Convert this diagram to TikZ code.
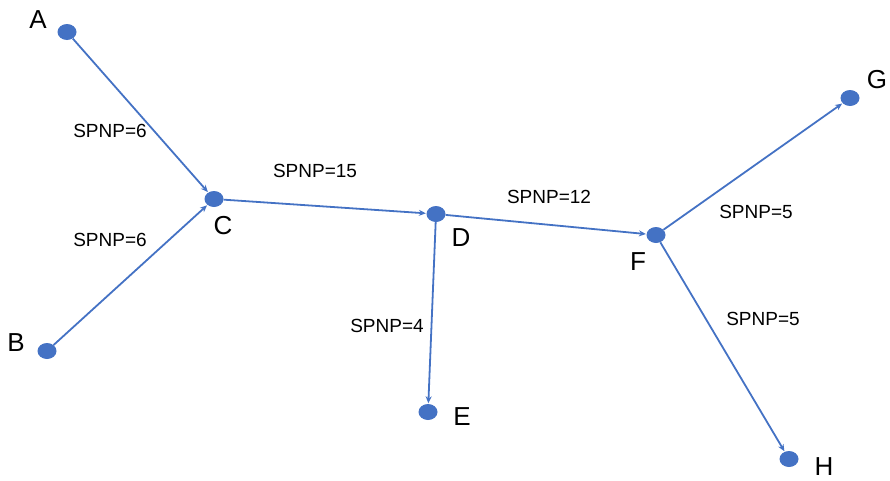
\documentclass[tikz,border=0pt]{standalone}
\usepackage{fontspec}
\setmainfont{Liberation Sans}
\usetikzlibrary{arrows.meta,shapes.geometric}
\definecolor{nodeblue}{HTML}{4472C4}
\begin{document}
\begin{tikzpicture}[x=1pt,y=-1pt,
  vtx/.style={ellipse, fill=nodeblue, minimum width=19pt, minimum height=16pt, inner sep=0pt},
  edge/.style={draw=nodeblue, line width=1.8pt, -{Stealth[length=7pt,width=6pt]}, shorten >=0.5pt},
  letter/.style={font=\fontsize{26}{26}\selectfont},
  lbl/.style={font=\fontsize{19}{19}\selectfont}]
\useasboundingbox (0,0) rectangle (890,480);
\node[vtx] (A) at (67,32) {};
\node[vtx] (B) at (47,351) {};
\node[vtx] (C) at (214,199) {};
\node[vtx] (D) at (436,214) {};
\node[vtx] (E) at (428,412) {};
\node[vtx] (F) at (656,235) {};
\node[vtx] (G) at (850,98) {};
\node[vtx] (H) at (789,459) {};
\node[letter] (tA) at (38,20) {A};
\node[letter] (tB) at (16,343) {B};
\node[letter] (tC) at (223,226) {C};
\node[letter] (tD) at (461,238) {D};
\node[letter] (tE) at (462,417) {E};
\node[letter] (tF) at (638,262) {F};
\node[letter] (tG) at (877,80) {G};
\node[letter] (tH) at (824,467) {H};
\draw[edge] (A) -- (C);
\draw[edge] (B) -- (C);
\draw[edge] (C) -- (D);
\draw[edge] (D) -- (F);
\draw[edge] (D) -- (E);
\draw[edge] (F) -- (G);
\draw[edge] (F) -- (H);
\node[lbl] (l1) at (110,131) {SPNP=6};
\node[lbl] (l2) at (110,240) {SPNP=6};
\node[lbl] (l3) at (315,171) {SPNP=15};
\node[lbl] (l4) at (549,197) {SPNP=12};
\node[lbl] (l5) at (756,212) {SPNP=5};
\node[lbl] (l6) at (387,326) {SPNP=4};
\node[lbl] (l7) at (763,319) {SPNP=5};
\end{tikzpicture}
\end{document}
